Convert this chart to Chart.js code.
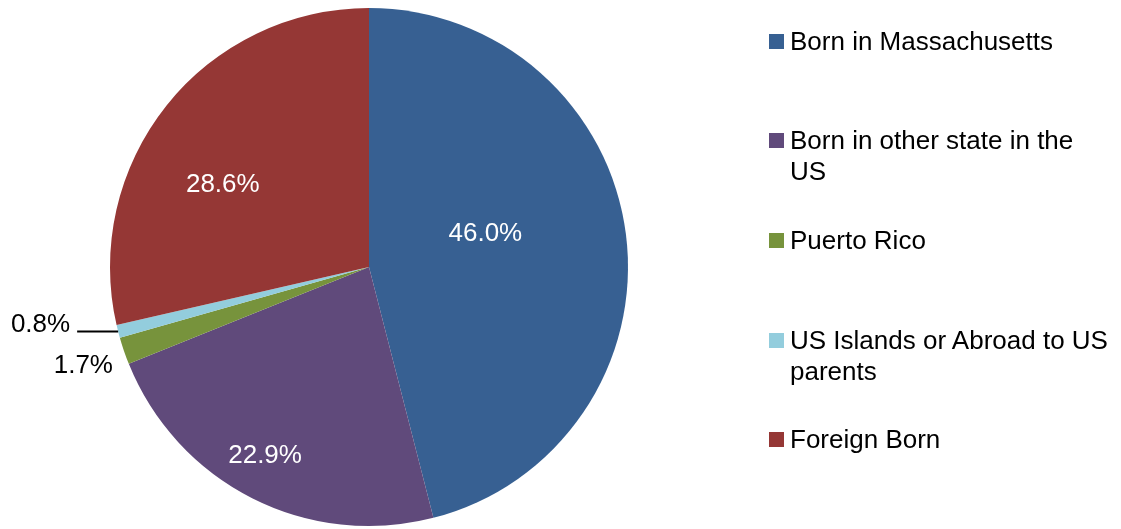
<!DOCTYPE html>
<html>
<head>
<meta charset="utf-8">
<script src="https://cdn.jsdelivr.net/npm/chart.js@4/dist/chart.umd.min.js"></script>
<style>
  html, body { margin: 0; padding: 0; background: #ffffff; }
  #wrap { position: relative; width: 1121px; height: 529px; overflow: hidden; }
  #c { position: absolute; left: 0; top: 0; }
  .lg-item { position: absolute; left: 769px; font-family: "Liberation Sans", Arial, sans-serif; font-size: 26px; line-height: 31px; color: #000; white-space: nowrap; }
  .lg-box { position: absolute; left: 0; top: 8px; width: 15px; height: 15px; }
  .lg-text { position: absolute; left: 21px; top: 0; }
</style>
</head>
<body>
<div id="wrap">
  <canvas id="c" width="1121" height="529"></canvas>
</div>
<script>
// ---- data ----
const categories = [
  'Born in Massachusetts',
  ['Born in other state in the', 'US'],
  'Puerto Rico',
  ['US Islands or Abroad to US', 'parents'],
  'Foreign Born'
];
const shares = [46.0, 22.9, 1.7, 0.8, 28.6];
const sliceColors = ['#376092', '#604A7B', '#77933C', '#93CDDD', '#953735'];

// ---- label placement (relative to each arc) ----
const labelPlacement = [
  { inside: true, angleFrac: 0.448, radiusFrac: 0.467 },
  { inside: true, angleFrac: 0.524, radiusFrac: 0.833 },
  { inside: false, dx: -11, dy: 15, line: false },
  { inside: false, dx: -48, dy: -7, line: true, lineDx: -41, lineDy: 0 },
  { inside: true, angleFrac: 0.41, radiusFrac: 0.647 }
];
const legendTops = [25.5, 124.5, 224.5, 324.5, 423.5];

const FONT = '26px "Liberation Sans", Arial, sans-serif';

const pieLabels = {
  id: 'pieLabels',
  afterDatasetsDraw(chart) {
    const ctx = chart.ctx;
    const meta = chart.getDatasetMeta(0);
    ctx.save();
    ctx.font = FONT;
    ctx.textBaseline = 'middle';
    meta.data.forEach((arc, i) => {
      const p = labelPlacement[i];
      const txt = shares[i].toFixed(1) + '%';
      const { x, y, startAngle, endAngle, outerRadius } = arc.getProps(['x', 'y', 'startAngle', 'endAngle', 'outerRadius'], true);
      if (p.inside) {
        const a = startAngle + p.angleFrac * (endAngle - startAngle);
        const r = outerRadius * p.radiusFrac;
        ctx.fillStyle = '#ffffff';
        ctx.textAlign = 'center';
        ctx.fillText(txt, x + r * Math.cos(a), y + r * Math.sin(a));
      } else {
        const a = (startAngle + endAngle) / 2;
        const ex = x + outerRadius * Math.cos(a);
        const ey = y + outerRadius * Math.sin(a);
        if (p.line) {
          ctx.strokeStyle = '#000000';
          ctx.lineWidth = 2;
          ctx.beginPath();
          ctx.moveTo(ex, ey);
          ctx.lineTo(ex + p.lineDx, ey + p.lineDy);
          ctx.stroke();
        }
        ctx.fillStyle = '#000000';
        ctx.textAlign = 'right';
        ctx.fillText(txt, ex + p.dx, ey + p.dy);
      }
    });
    ctx.restore();
  }
};

new Chart(document.getElementById('c'), {
  type: 'pie',
  data: {
    labels: categories,
    datasets: [{
      data: shares,
      backgroundColor: sliceColors,
      borderWidth: 0,
      hoverOffset: 0
    }]
  },
  options: {
    responsive: false,
    animation: false,
    devicePixelRatio: 1,
    layout: { padding: { left: 110, top: 8, right: 493, bottom: 3 } },
    plugins: {
      legend: { display: false },
      tooltip: { enabled: false }
    }
  },
  plugins: [pieLabels]
});

// ---- HTML legend built from the arrays ----
const wrap = document.getElementById('wrap');
categories.forEach((lab, i) => {
  const item = document.createElement('div');
  item.className = 'lg-item';
  item.style.top = legendTops[i] + 'px';
  const box = document.createElement('div');
  box.className = 'lg-box';
  box.style.background = sliceColors[i];
  const text = document.createElement('div');
  text.className = 'lg-text';
  const lines = Array.isArray(lab) ? lab : [lab];
  lines.forEach((ln, j) => {
    if (j) text.appendChild(document.createElement('br'));
    text.appendChild(document.createTextNode(ln));
  });
  item.appendChild(box);
  item.appendChild(text);
  wrap.appendChild(item);
});
</script>
</body>
</html>
